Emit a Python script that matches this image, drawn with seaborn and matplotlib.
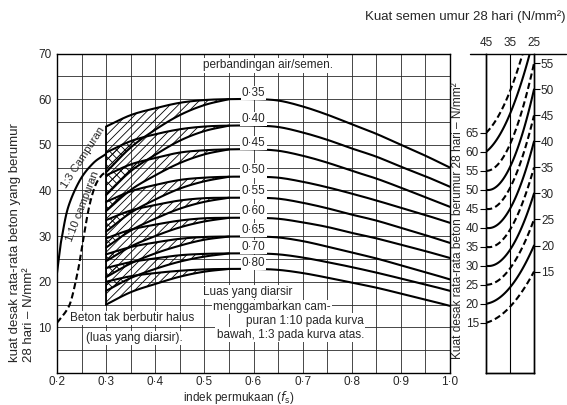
import numpy as np
import seaborn as sns
import matplotlib.pyplot as plt

sns.set_theme(style="white")
plt.rcParams['font.family'] = ['Liberation Sans', 'DejaVu Sans']
plt.rcParams['hatch.linewidth'] = 0.6

# ---- main chart data (kuat desak, N/mm2, vs indek permukaan) ----
rasio = ['0·35', '0·40', '0·45', '0·50', '0·55', '0·60', '0·65', '0·70', '0·80']
x_utama = [0.3, 0.35, 0.4, 0.45, 0.5, 0.55, 0.6, 0.65, 0.7, 0.75, 0.8, 0.85, 0.9, 0.95, 1.0]
# upper curve (1:3 mix), continuing as the single curve beyond the hatched part
kuat_atas = [
    [54.0, 56.5, 58.0, 59.2, 59.8, 60.0, 60.0, 59.7, 58.4, 56.6, 54.5, 52.4, 50.0, 47.6, 45.0],
    [48.3, 50.8, 52.3, 53.4, 54.0, 54.2, 54.2, 53.9, 52.7, 51.1, 49.2, 47.4, 45.2, 43.1, 40.8],
    [43.3, 45.7, 47.1, 48.3, 48.8, 49.0, 49.0, 48.7, 47.6, 46.1, 44.3, 42.6, 40.6, 38.5, 36.4],
    [37.5, 39.8, 41.2, 42.3, 42.8, 43.0, 43.0, 42.8, 41.9, 40.7, 39.3, 37.8, 36.2, 34.6, 32.9],
    [33.5, 35.6, 36.8, 37.8, 38.3, 38.4, 38.4, 38.2, 37.3, 36.1, 34.7, 33.4, 31.8, 30.2, 28.5],
    [29.5, 31.4, 32.5, 33.4, 33.9, 34.0, 34.0, 33.8, 33.0, 32.0, 30.7, 29.5, 28.1, 26.7, 25.2],
    [26.0, 27.6, 28.6, 29.4, 29.8, 29.9, 29.9, 29.7, 28.9, 27.7, 26.4, 25.1, 23.6, 22.1, 20.5],
    [23.0, 24.3, 25.1, 25.8, 26.1, 26.2, 26.2, 26.0, 25.3, 24.3, 23.2, 22.0, 20.7, 19.4, 18.0],
    [20.0, 21.2, 21.9, 22.4, 22.7, 22.8, 22.8, 22.6, 21.9, 20.9, 19.8, 18.7, 17.4, 16.1, 14.7],
]
# lower curve (1:10 mix)
x_bawah = [0.3, 0.35, 0.4, 0.45, 0.5, 0.55]
kuat_bawah = [
    [44.0, 49.4, 53.3, 56.5, 58.7, 60.0],
    [39.0, 44.2, 47.8, 50.9, 53.0, 54.2],
    [35.5, 40.1, 43.3, 46.0, 47.9, 49.0],
    [31.0, 35.1, 38.0, 40.4, 42.0, 43.0],
    [27.5, 31.2, 33.8, 36.0, 37.5, 38.4],
    [24.5, 27.7, 30.0, 31.9, 33.2, 34.0],
    [21.0, 24.0, 26.2, 27.9, 29.2, 29.9],
    [18.0, 20.8, 22.8, 24.4, 25.5, 26.2],
    [15.0, 17.7, 19.5, 21.1, 22.2, 22.8],
]
# no-fines concrete
x_c13 = [0.2, 0.206, 0.21, 0.223, 0.247, 0.274, 0.3]
y_c13 = [21.9, 27.0, 29.8, 36.4, 42.3, 46.0, 48.0]
x_c110 = [0.2, 0.22, 0.23, 0.243, 0.25, 0.264, 0.277, 0.29, 0.3]
y_c110 = [11.0, 13.8, 16.4, 22.6, 27.0, 35.7, 40.8, 43.2, 44.0]

# ---- side nomogram: kuat semen 45 / 35 / 25 ----
semen = [45, 35, 25]
kuat_45 = [15, 20, 25, 30, 35, 40, 45, 50, 55, 60, 65]            # left scale
kuat_35 = [19.2, 24.3, 29.3, 34.2, 39.5, 45.0, 50.5, 56.0, 62.0, 70.0, 76.0]  # left scale
kuat_25 = [15, 20, 25, 30, 35, 40, 45, 50, 55, 60, 65]            # right scale


def halus(xs, ys, n=16):
    p = np.column_stack([xs, ys]).astype(float)
    p = np.vstack([2 * p[0] - p[1], p, 2 * p[-1] - p[-2]])
    t = np.linspace(0, 1, n, endpoint=False)[:, None]
    out = []
    for i in range(1, len(p) - 2):
        p0, p1, p2, p3 = p[i - 1], p[i], p[i + 1], p[i + 2]
        out.append(0.5 * (2 * p1 + (-p0 + p2) * t + (2 * p0 - 5 * p1 + 4 * p2 - p3) * t ** 2
                          + (-p0 + 3 * p1 - 3 * p2 + p3) * t ** 3))
    out.append(p[-2][None])
    out = np.vstack(out)
    return out[:, 0], out[:, 1]


fig = plt.figure(figsize=(5.67, 4.05), dpi=100)
fig.patch.set_facecolor('white')
ax = fig.add_axes([57 / 567, 32 / 405, 393 / 567, 319.5 / 405])

ax.set_xlim(0.2, 1.0)
ax.set_ylim(0, 70)
ax.set_xticks(np.arange(0.2, 1.01, 0.1))
ax.set_xticks(np.arange(0.25, 1.0, 0.1), minor=True)
ax.set_xticklabels([f"{v:.1f}".replace('.', '·') for v in np.arange(0.2, 1.01, 0.1)])
ax.set_yticks(np.arange(10, 71, 10))
ax.set_yticks(np.arange(5, 70, 10), minor=True)
ax.grid(True, which='both', color='#2a2a2a', lw=0.6)
ax.tick_params(which='both', length=0, labelsize=8.5, pad=4)
ax.tick_params(axis='x', pad=2.5)
for s in ax.spines.values():
    s.set_color('black')
    s.set_linewidth(1.0)

gaya = dict(color='black', lw=1.5)
putus = dict(color='black', lw=1.5, dashes=(3, 1.6))

# hatched areas and curves
halus_bawah = []
for i in range(len(rasio)):
    xa, ya = halus(x_utama, kuat_atas[i])
    xb, yb = halus(x_bawah, kuat_bawah[i])
    halus_bawah.append((xb, yb))
    ya_b = np.interp(xb, xa, ya)
    ax.fill_between(xb, yb, ya_b, facecolor='none', edgecolor='black', hatch='////', lw=0, zorder=2)
    sns.lineplot(x=xa, y=ya, ax=ax, sort=False, estimator=None, zorder=3, **gaya)
    sns.lineplot(x=xb, y=yb, ax=ax, sort=False, estimator=None, zorder=3, **gaya)
    ax.text(0.6, kuat_atas[i][6] + 1.4, rasio[i], ha='center', va='center', fontsize=8.5, zorder=5,
            bbox=dict(boxstyle='square,pad=0.1', fc='white', ec='none'))

# overlap of neighbouring hatched areas -> cross hatched
for i in range(len(rasio) - 1):
    xb, yb = halus_bawah[i]
    xa, ya = halus(x_utama, kuat_atas[i + 1])
    ya_b = np.interp(xb, xa, ya)
    ax.fill_between(xb, yb, ya_b, where=yb < ya_b, facecolor='none', edgecolor='black',
                    hatch='\\\\\\\\', lw=0, zorder=2)

ax.plot([0.3, 0.3], [kuat_bawah[-1][0], kuat_atas[0][0]], color='black', lw=1.3, zorder=3)

xc, yc = halus(x_c13, y_c13)
sns.lineplot(x=xc, y=yc, ax=ax, sort=False, estimator=None, zorder=3, **gaya)
xc, yc = halus(x_c110, y_c110)
sns.lineplot(x=xc, y=yc, ax=ax, sort=False, estimator=None, zorder=3, **putus)
ax.set_xlabel('')
ax.set_ylabel('')

kotak = dict(boxstyle='square,pad=0.1', fc='white', ec='none')
ax.text(0.63, 67.4, 'perbandingan air/semen.', ha='center', va='center', fontsize=8.5, bbox=kotak, zorder=5)
ax.text(0.254, 47.2, '1:3 Campuran', ha='center', va='center', rotation=57, rotation_mode='anchor',
        fontsize=8, zorder=5)
ax.text(0.252, 36.4, '1:10 campuran', ha='center', va='center', rotation=69, rotation_mode='anchor',
        fontsize=8, zorder=5)
ax.text(0.226, 12.1, 'Beton tak berbutir halus', ha='left', va='center', fontsize=8.5, bbox=kotak, zorder=5)
ax.text(0.259, 7.7, '(luas yang diarsir).', ha='left', va='center', fontsize=8.5, bbox=kotak, zorder=5)
ax.text(0.497, 17.8, 'Luas yang diarsir', ha='left', va='center', fontsize=8.5, bbox=kotak, zorder=5)
ax.text(0.518, 14.5, 'menggambarkan cam-', ha='left', va='center', fontsize=8.5, bbox=kotak, zorder=5)
ax.text(0.585, 11.5, 'puran 1:10 pada kurva', ha='left', va='center', fontsize=8.5, bbox=kotak, zorder=5)
ax.text(0.525, 8.4, 'bawah, 1:3 pada kurva atas.', ha='left', va='center', fontsize=8.5, bbox=kotak, zorder=5)

fig.text(22 / 567, 43 / 405, 'kuat desak rata-rata beton yang berumur\n28 hari – N/mm²', rotation=90,
         ha='center', va='bottom', multialignment='left', fontsize=9.5, linespacing=1.2)
fig.text(239 / 567, 4 / 405, 'indek permukaan ($\\mathit{f}_\\mathrm{s}$)', ha='center', va='baseline',
         fontsize=8.5)

# ---- side panel ----
axr = fig.add_axes([486 / 567, 32 / 405, 48 / 567, 319.5 / 405])
axr.set_xlim(45, 25)
axr.set_ylim(1.77, 85.9)
tw = axr.twinx()
tw.set_ylim(-4.5, 56.9)
axr.set_xticks(semen)
axr.xaxis.tick_top()
axr.tick_params(axis='x', length=0, labelsize=8.5, pad=3)
axr.set_yticks([15, 20, 25, 30, 35, 40, 45, 50, 55, 60, 65])
axr.tick_params(axis='y', direction='out', length=4, width=0.8, labelsize=8.5, pad=1, color='black')
tw.set_yticks([15, 20, 25, 30, 35, 40, 45, 50, 55])
tw.tick_params(axis='y', direction='out', length=4, width=0.8, labelsize=8.5, pad=1, color='black')
for a in (axr, tw):
    a.grid(False)
    a.spines['top'].set_visible(False)
    for k in ('left', 'right', 'bottom'):
        a.spines[k].set_color('black')
        a.spines[k].set_linewidth(1.0)
axr.axvline(35, color='black', lw=0.8)
axr.plot([-0.33, 1.67], [1, 1], transform=axr.transAxes, color='black', lw=1.0, clip_on=False)

ke_kiri = axr.transData.inverted()
for i in range(len(kuat_45)):
    v25 = ke_kiri.transform(tw.transData.transform((25, kuat_25[i])))[1]
    c = np.polyfit(semen, [kuat_45[i], kuat_35[i], v25], 2)
    xs = np.linspace(45, 25, 60)
    ys = np.polyval(c, xs)
    st = gaya if kuat_45[i] % 10 == 0 else putus
    axr.plot(xs, ys, **st)

fig.text(458 / 567, (405 - 221) / 405, 'Kuat desak rata-rata beton berumur 28 hari – N/mm²', rotation=90,
         ha='center', va='center', fontsize=8.6)
fig.text(465 / 567, 388 / 405, 'Kuat semen umur 28 hari (N/mm²)', ha='center', va='center', fontsize=9.5)

fig.savefig('out.png', dpi=100, facecolor='white')
